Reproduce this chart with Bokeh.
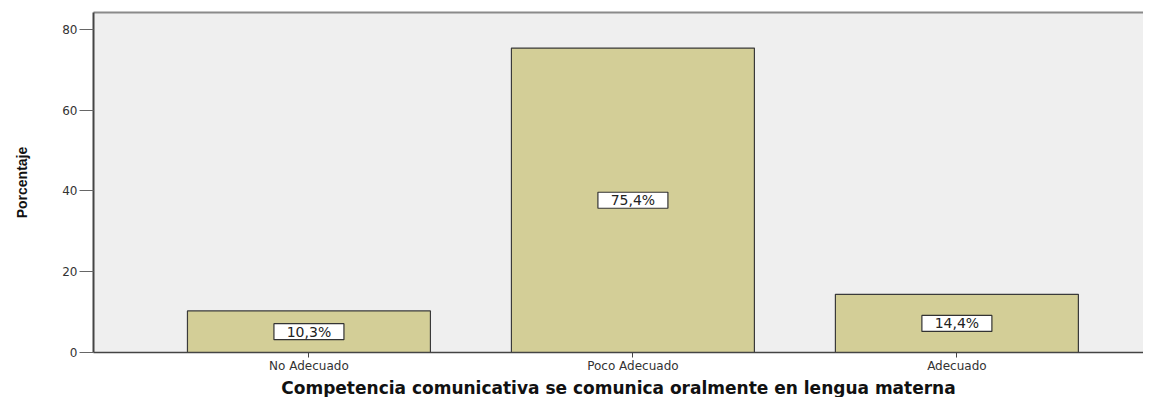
from bokeh.plotting import figure
from bokeh.models import Range1d, FixedTicker, LinearAxis, ColumnDataSource, Title
from bokeh.core.properties import value
from bokeh.embed import file_html
from bokeh.resources import INLINE

categories = ["No Adecuado", "Poco Adecuado", "Adecuado"]
percentages = [10.3, 75.4, 14.4]
y_ticks = [0, 20, 40, 60, 80]
x_title = "Competencia comunicativa se comunica oralmente en lengua materna"
y_title = "Porcentaje"

xs = list(range(len(categories)))
labels = [f"{v:.1f}".replace(".", ",") + "%" for v in percentages]
mids = [v / 2 for v in percentages]
src = ColumnDataSource(dict(x=xs, top=percentages, mid=mids, label=labels))

p = figure(width=1143, height=397, output_backend="svg", toolbar_location=None,
           x_range=Range1d(-0.665, 2.576), y_range=Range1d(0, 84.2),
           min_border_left=93, min_border_right=0, min_border_top=12,
           min_border_bottom=0)
p.background_fill_color = "#efefef"
p.border_fill_color = "white"
p.outline_line_color = None
p.xgrid.visible = False
p.ygrid.visible = False

p.vbar(x="x", top="top", bottom=0, width=0.75, source=src,
       fill_color="#d3ce97", line_color="#3a3a3a", line_width=1.2)
p.rect(x="x", y="mid", width=70, height=16, width_units="screen",
       height_units="screen", source=src, fill_color="white",
       line_color="#333333", line_width=1.2)
p.text(x="x", y="mid", text="label", source=src, text_align="center",
       text_baseline="middle", text_font=value("DejaVu Sans"),
       text_font_size="14px", text_color="#222222")

xa = p.below[0]
xa.ticker = FixedTicker(ticks=xs)
xa.major_label_overrides = {i: c for i, c in zip(xs, categories)}
xa.major_tick_out = 5
xa.major_tick_in = 0
xa.minor_tick_line_color = None
xa.axis_line_color = "#444444"
xa.axis_line_width = 1.5
xa.major_tick_line_color = "#444444"
xa.major_label_text_font = "DejaVu Sans"
xa.major_label_text_font_size = "12px"
xa.major_label_text_color = "#333333"
xa.major_label_standoff = 1

p.add_layout(Title(text=x_title, align="center", text_font="DejaVu Sans",
                   text_font_style="bold", text_font_size="17px",
                   text_color="#111111", standoff=0), "below")

ya = p.left[0]
ya.ticker = FixedTicker(ticks=y_ticks)
ya.major_tick_out = 14
ya.major_tick_in = 0
ya.minor_tick_line_color = None
ya.axis_line_color = "#444444"
ya.axis_line_width = 2
ya.major_tick_line_color = "#666666"
ya.major_label_text_font = "DejaVu Sans"
ya.major_label_text_font_size = "12px"
ya.major_label_text_color = "#333333"
ya.major_label_standoff = 2
ya.axis_label = y_title
ya.axis_label_text_font = "Liberation Sans"
ya.axis_label_text_font_style = "bold"
ya.axis_label_text_font_size = "14px"
ya.axis_label_text_color = "#111111"
ya.axis_label_standoff = 29

# top frame line
top_axis = LinearAxis(ticker=FixedTicker(ticks=[]), major_label_text_font_size="0px",
                      major_tick_line_color=None, minor_tick_line_color=None,
                      major_label_standoff=0, axis_line_color="#8a8a8a",
                      axis_line_width=2)
p.add_layout(top_axis, "above")

open("out.html", "w").write(file_html(p, INLINE))
